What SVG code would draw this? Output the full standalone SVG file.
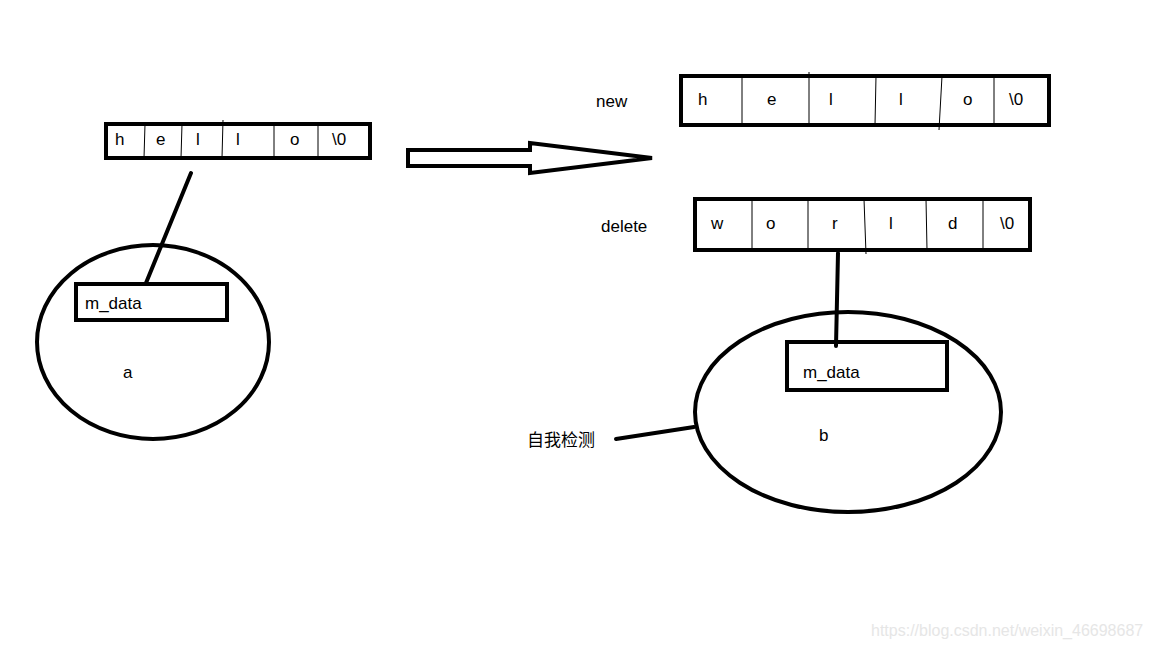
<svg xmlns="http://www.w3.org/2000/svg" width="1152" height="648" viewBox="0 0 1152 648">
<style>
.box{fill:none;stroke:#000;stroke-width:4}
.div{stroke:#000;stroke-width:1}
.thick{stroke:#000;stroke-width:4;fill:none;stroke-linecap:round}
text{font-family:"Liberation Sans","Noto Sans CJK SC",sans-serif;font-size:17px;fill:#000}
.wm{fill:#e6e6e6;font-size:16px}
</style>
<rect width="1152" height="648" fill="#fff"/>
<g id="connectors">
<line class="thick" x1="191" y1="173" x2="146" y2="283"/>
<line class="thick" x1="838" y1="253" x2="836" y2="346"/>
<line class="thick" x1="616" y1="439" x2="694" y2="427"/>
</g>
<g id="arrow">
<path class="thick" stroke-width="5" d="M408,150 L530,150 L530,143 L652,158 L530,173 L530,166 L408,166 Z"/>
</g>
<g id="hello-left">
<rect class="box" x="106" y="124" width="264" height="34"/>
<line class="div" x1="145" y1="124" x2="144" y2="158"/>
<line class="div" x1="182" y1="124" x2="181" y2="158"/>
<line class="div" x1="223" y1="120" x2="222" y2="158"/>
<line class="div" x1="274" y1="124" x2="274" y2="158"/>
<line class="div" x1="318" y1="124" x2="318" y2="158"/>
<text x="115" y="145">h</text><text x="156" y="145">e</text><text x="196" y="145">l</text><text x="236" y="145">l</text><text x="290" y="145">o</text><text x="332" y="145">\0</text>
</g>
<g id="hello-new">
<rect class="box" x="681" y="76" width="368" height="49"/>
<line class="div" x1="742" y1="76" x2="742" y2="125"/>
<line class="div" x1="809" y1="72" x2="809" y2="125"/>
<line class="div" x1="876" y1="76" x2="875" y2="125"/>
<line class="div" x1="942" y1="76" x2="939" y2="130"/>
<line class="div" x1="994" y1="76" x2="994" y2="125"/>
<text x="698" y="105">h</text><text x="767" y="105">e</text><text x="829" y="105">l</text><text x="899" y="105">l</text><text x="963" y="105">o</text><text x="1009" y="105">\0</text>
<text x="596" y="107">new</text>
</g>
<g id="world-delete">
<rect class="box" x="695" y="199" width="335" height="51"/>
<line class="div" x1="752" y1="199" x2="752" y2="250"/>
<line class="div" x1="808" y1="199" x2="808" y2="250"/>
<line class="div" x1="864" y1="199" x2="866" y2="254"/>
<line class="div" x1="926" y1="199" x2="927" y2="250"/>
<line class="div" x1="983" y1="199" x2="983" y2="250"/>
<text x="711" y="229">w</text><text x="766" y="229">o</text><text x="832" y="229">r</text><text x="889" y="229">l</text><text x="948" y="229">d</text><text x="1000" y="229">\0</text>
<text x="601" y="232">delete</text>
</g>
<g id="object-a">
<ellipse class="box" cx="153" cy="342" rx="116" ry="97"/>
<rect class="box" x="76" y="284" width="151" height="36"/>
<text x="85" y="309">m_data</text>
<text x="123" y="378">a</text>
</g>
<g id="object-b">
<ellipse class="box" cx="848" cy="412" rx="153" ry="100"/>
<rect class="box" x="787" y="342" width="160" height="48"/>
<text x="803" y="378">m_data</text>
<text x="819" y="441">b</text>
</g>
<g id="label-check">
<text x="527" y="446">自我检测</text>
</g>
<text class="wm" x="871" y="636">https://blog.csdn.net/weixin_46698687</text>
</svg>
